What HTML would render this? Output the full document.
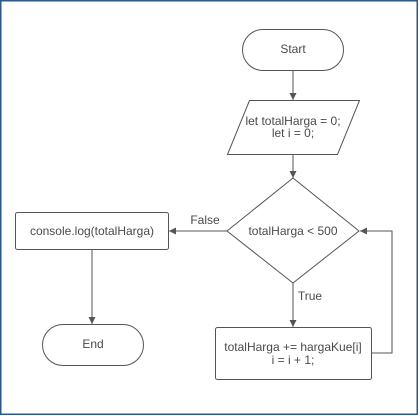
<!DOCTYPE html>
<html><head><style>
html,body{margin:0;padding:0;background:#fff;}
svg{display:block;}
text{font-family:"Liberation Sans",Arial,sans-serif;font-size:12px;fill:#4a4a4a;}
</style></head><body>
<svg width="420" height="416" viewBox="0 0 420 416" xmlns="http://www.w3.org/2000/svg">
<defs><marker id="a" markerWidth="8" markerHeight="8" refX="7" refY="4" orient="auto" markerUnits="userSpaceOnUse"><path d="M0,0.5 L7,4 L0,7.5 Z" fill="#555"/></marker></defs>
<rect x="0.75" y="0.75" width="416.5" height="413.5" fill="#fff" stroke="#2c5a85" stroke-width="1.5"/>
<g fill="#fff" stroke="#555" stroke-width="1">
<rect x="242.5" y="29.5" width="101" height="41" rx="20.5"/>
<path d="M249.5,100.5 L359.5,100.5 L337.5,154.5 L227.5,154.5 Z"/>
<path d="M293,178 L359,231 L293,283 L227,231 Z"/>
<rect x="15.5" y="212.5" width="153" height="37" rx="2"/>
<rect x="215.5" y="327.5" width="156" height="52" rx="2"/>
<rect x="42.5" y="324.5" width="101" height="41" rx="20.5"/>
</g>
<g stroke="#555" stroke-width="1" fill="none">
<line x1="293" y1="71" x2="293" y2="100" marker-end="url(#a)"/>
<line x1="293" y1="155" x2="293" y2="178" marker-end="url(#a)"/>
<line x1="227" y1="231" x2="169" y2="231" marker-end="url(#a)"/>
<line x1="293" y1="283" x2="293" y2="327" marker-end="url(#a)"/>
<polyline points="372,353 392,353 392,231 360,231" marker-end="url(#a)"/>
<line x1="92" y1="250" x2="92" y2="324" marker-end="url(#a)"/>
</g>
<text x="293" y="53" text-anchor="middle">Start</text>
<text x="293" y="125" text-anchor="middle">let totalHarga = 0;</text>
<text x="293" y="137" text-anchor="middle">let i = 0;</text>
<text x="293" y="235" text-anchor="middle">totalHarga &lt; 500</text>
<text x="92" y="235" text-anchor="middle">console.log(totalHarga)</text>
<text x="205" y="224" text-anchor="middle">False</text>
<text x="310" y="300" text-anchor="middle">True</text>
<text x="293" y="351" text-anchor="middle">totalHarga += hargaKue[i]</text>
<text x="293" y="364" text-anchor="middle">i = i + 1;</text>
<text x="93" y="348" text-anchor="middle">End</text>
</svg>
</body></html>
